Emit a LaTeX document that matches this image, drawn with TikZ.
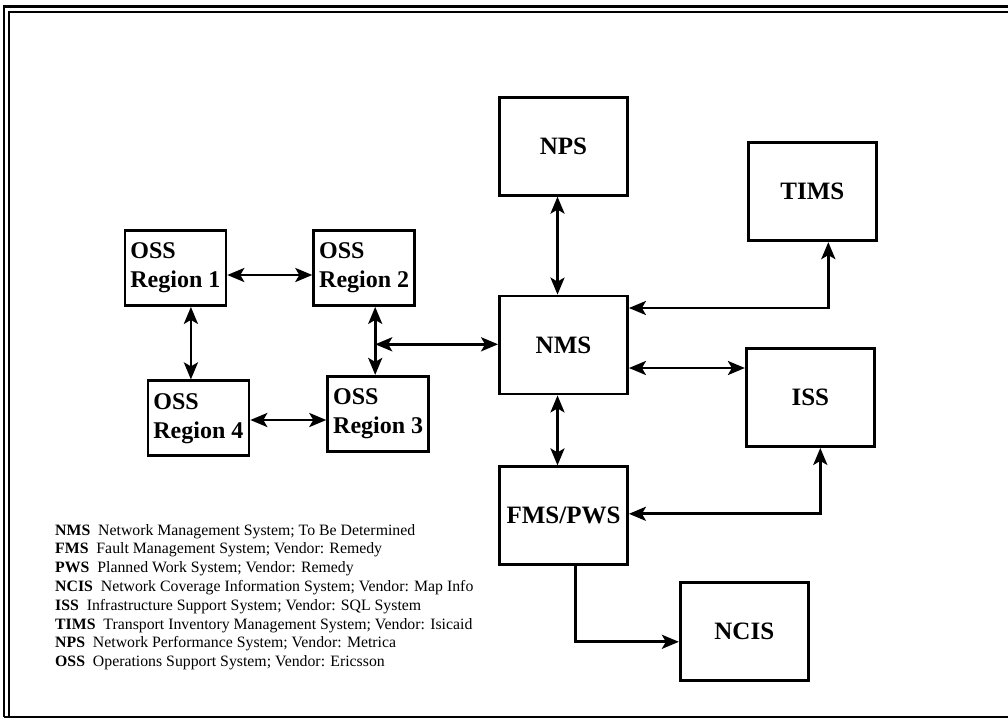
\documentclass[tikz,border=0pt]{standalone}
\usepackage{fontspec}
\setmainfont{Liberation Serif}
\usetikzlibrary{arrows.meta,positioning}
\tikzset{
  sys/.style={draw,line width=2.8pt,minimum width=128pt,minimum height=98pt,inner sep=0pt,font=\fontsize{25}{30}\selectfont\bfseries},
  oss/.style={sys,minimum width=101pt,minimum height=75pt,align=left,font=\fontsize{24}{29}\selectfont\bfseries},
  ar/.style={->,line width=2.8pt},
  dar/.style={<->,line width=2.8pt},
  frm/.style={line width=2.6pt},
  legend/.style={align=left,inner sep=0pt,font=\fontsize{15.8}{18.8}\selectfont},
}

\begin{document}
\begin{tikzpicture}[x=1pt,y=1pt,>={Stealth[length=17pt,width=14pt,inset=4pt]}]
  \useasboundingbox (0,0) rectangle (1008,-723);
  \draw[frm] (4,-717) -- (4,-6.5) -- (1008,-6.5);
  \draw[frm] (9,-717) -- (9,-12) -- (1008,-12);
  \draw[line width=2pt] (4,-717) -- (1008,-717);

  \node[sys] (nms) at (563.5,-345) {NMS};
  \node[sys, above=98pt of nms] (nps) {NPS};
  \node[sys, below=70pt of nms] (fms) {FMS/PWS};
  \node[sys, right=118pt of nps, yshift=-45.5pt] (tims) {TIMS};
  \node[sys, right=116pt of nms, yshift=-52.5pt] (iss) {ISS};
  \node[sys, right=50pt of fms, yshift=-116pt] (ncis) {NCIS};

  \node[oss, left=82pt of nms, yshift=77pt] (r2) {OSS\\Region 2};
  \node[oss, left=85pt of r2] (r1) {OSS\\Region 1};
  \node[oss, below=68pt of r2, xshift=14pt] (r3) {OSS\\Region 3};
  \node[oss, left=76pt of r3, yshift=-4.5pt] (r4) {OSS\\Region 4};

  \node[legend, anchor=north west] (key) at (55,-524)
    {\textbf{NMS}\ \ Network Management System; To Be Determined\\
     \textbf{FMS}\ \ Fault Management System; Vendor: Remedy\\
     \textbf{PWS}\ \ Planned Work System; Vendor: Remedy\\
     \textbf{NCIS}\ \ Network Coverage Information System; Vendor: Map Info\\
     \textbf{ISS}\ \ Infrastructure Support System; Vendor: SQL System\\
     \textbf{TIMS}\ \ Transport Inventory Management System; Vendor: Isicaid\\
     \textbf{NPS}\ \ Network Performance System; Vendor: Metrica\\
     \textbf{OSS}\ \ Operations Support System; Vendor: Ericsson};

  \draw[dar] ([yshift=-7pt]r1.east) -- ([yshift=-7pt]r1.east -| r2.west);
  \draw[dar] ([xshift=15.5pt]r1.south) -- ([xshift=15.5pt]r1.south |- r4.north);
  \draw[dar] ([xshift=11pt]r2.south) -- coordinate[pos=0.55] (j) ([xshift=11pt]r2.south |- r3.north);
  \draw[dar] (j) -- (j -| nms.west);
  \draw[dar] ([yshift=-1.7pt]r4.east) -- ([yshift=-1.7pt]r4.east -| r3.west);
  \draw[dar] ([xshift=-6pt]nps.south) -- ([xshift=-6pt]nms.north);
  \draw[dar] ([xshift=-6pt]nms.south) -- ([xshift=-6pt]fms.north);
  \draw[dar] ([xshift=16pt]tims.south) |- ([yshift=37pt]nms.east);
  \draw[dar] ([yshift=-23pt]nms.east) -- ([yshift=-23pt]nms.east -| iss.west);
  \draw[dar] ([xshift=10pt]iss.south) |- ([yshift=2pt]fms.east);
  \draw[ar] ([xshift=12pt]fms.south) |- ([yshift=-10pt]ncis.west);
\end{tikzpicture}
\end{document}
